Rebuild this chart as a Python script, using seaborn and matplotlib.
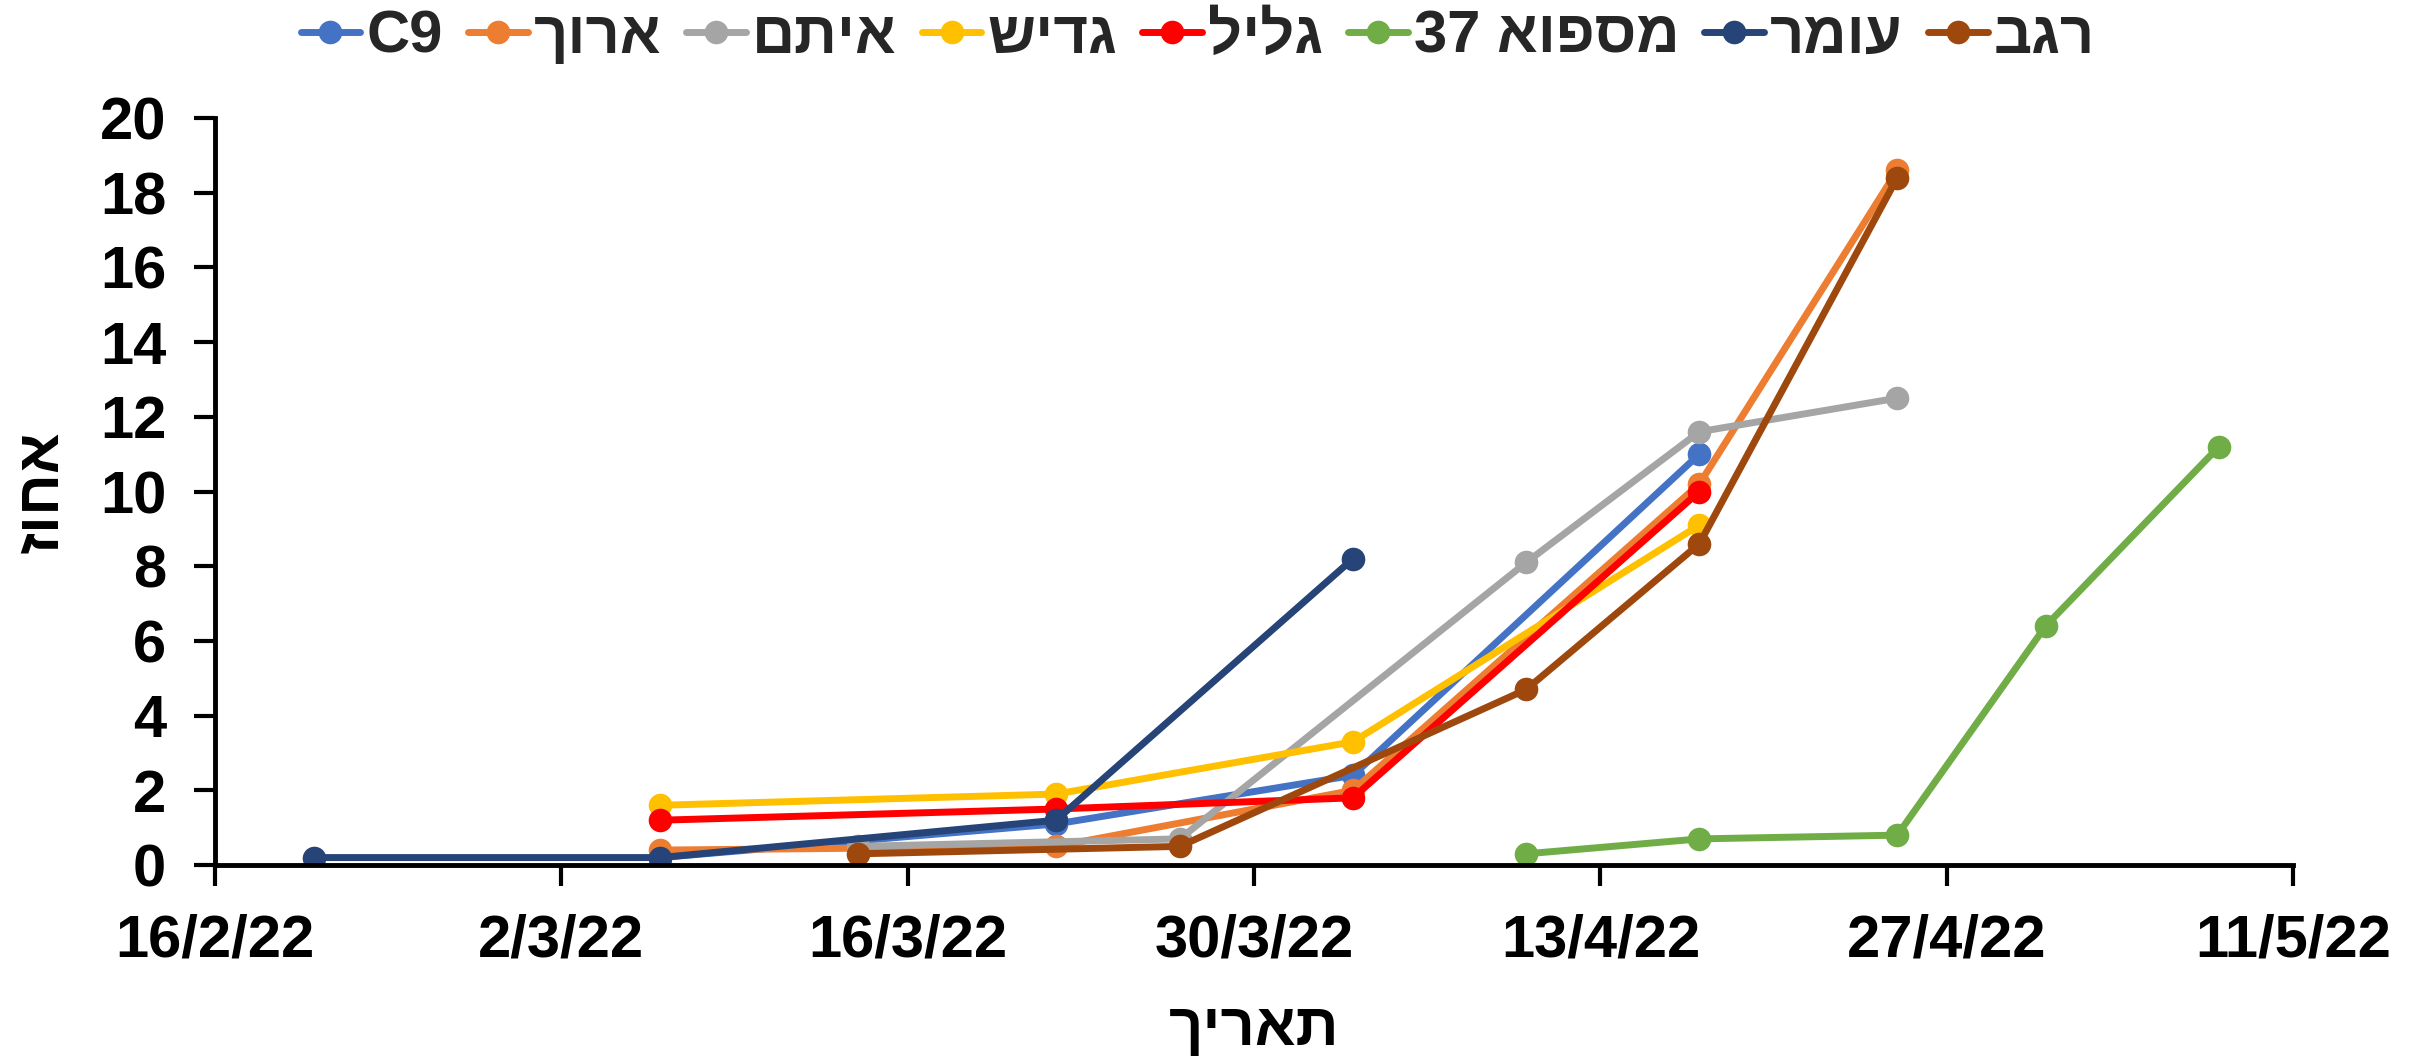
import matplotlib
matplotlib.use("Agg")
import matplotlib.pyplot as plt
import matplotlib.dates as mdates
from matplotlib.lines import Line2D
from matplotlib.ticker import FuncFormatter
import seaborn as sns
import pandas as pd

# data
series_names = ['C9', 'ארוך', 'איתם', 'גדיש', 'גליל', 'מספוא 37', 'עומר', 'רגב']
series_colors = ['#4472C4', '#ED7D31', '#A5A5A5', '#FFC000', '#FF0000', '#70AD47', '#264478', '#9E480E']

c9_dates = ['2022-03-06', '2022-03-22', '2022-04-03', '2022-04-17']
c9_values = [0.2, 1.1, 2.4, 11.0]
aroch_dates = ['2022-03-06', '2022-03-22', '2022-04-03', '2022-04-17', '2022-04-25']
aroch_values = [0.4, 0.5, 2.0, 10.2, 18.6]
eitam_dates = ['2022-03-14', '2022-03-27', '2022-04-10', '2022-04-17', '2022-04-25']
eitam_values = [0.5, 0.7, 8.1, 11.6, 12.5]
gadish_dates = ['2022-03-06', '2022-03-22', '2022-04-03', '2022-04-17']
gadish_values = [1.6, 1.9, 3.3, 9.1]
galil_dates = ['2022-03-06', '2022-03-22', '2022-04-03', '2022-04-17']
galil_values = [1.2, 1.5, 1.8, 10.0]
mispo_dates = ['2022-04-10', '2022-04-17', '2022-04-25', '2022-05-01', '2022-05-08']
mispo_values = [0.3, 0.7, 0.8, 6.4, 11.2]
omer_dates = ['2022-02-20', '2022-03-06', '2022-03-22', '2022-04-03']
omer_values = [0.2, 0.2, 1.2, 8.2]
regev_dates = ['2022-03-14', '2022-03-27', '2022-04-10', '2022-04-17', '2022-04-25']
regev_values = [0.3, 0.5, 4.7, 8.6, 18.4]

all_dates = [c9_dates, aroch_dates, eitam_dates, gadish_dates, galil_dates, mispo_dates, omer_dates, regev_dates]
all_values = [c9_values, aroch_values, eitam_values, gadish_values, galil_values, mispo_values, omer_values, regev_values]

x_ticks = ['2022-02-16', '2022-03-02', '2022-03-16', '2022-03-30', '2022-04-13', '2022-04-27', '2022-05-11']
y_ticks = list(range(0, 21, 2))


def heb(s):
    # matplotlib has no bidi support: put words in visual order
    words = s.split(' ')[::-1]
    out = []
    for w in words:
        if any('\u0590' <= ch <= '\u05FF' for ch in w):
            w = w[::-1]
        out.append(w)
    return ' '.join(out)


labels = [heb(n) for n in series_names]
rows = []
for lab, ds, vs in zip(labels, all_dates, all_values):
    for d, v in zip(ds, vs):
        rows.append({'date': pd.Timestamp(d), 'value': v, 'series': lab})
df = pd.DataFrame(rows)

sns.set_theme(style="white")
plt.rcParams['font.family'] = ['Liberation Sans', 'DejaVu Sans']
plt.rcParams['font.weight'] = 'bold'

FS = 43
LW = 5
MS = 17

fig = plt.figure(figsize=(24.1, 10.61), dpi=100)
ax = fig.add_axes([0.0892, 0.1847, 0.8623, 0.7041])

palette = dict(zip(labels, series_colors))
sns.lineplot(data=df, x='date', y='value', hue='series', hue_order=labels,
             palette=palette, marker='o', markersize=MS, markeredgewidth=0,
             linewidth=LW, legend=False, ax=ax, estimator=None, sort=False)

tick_nums = [mdates.date2num(pd.Timestamp(d)) for d in x_ticks]
ax.set_xlim(tick_nums[0], tick_nums[-1])
ax.set_xticks(tick_nums)
ax.xaxis.set_major_formatter(FuncFormatter(
    lambda x, pos: (lambda d: f"{d.day}/{d.month}/{d:%y}")(mdates.num2date(x))))
ax.set_ylim(0, 20)
ax.set_yticks(y_ticks)

for side in ['top', 'right']:
    ax.spines[side].set_visible(False)
for side in ['left', 'bottom']:
    ax.spines[side].set_color('black')
    ax.spines[side].set_linewidth(3.5)
ax.tick_params(axis='both', bottom=True, left=True, direction='out', length=15, width=3,
               color='black', labelsize=FS, pad=20, labelcolor='black')
for t in ax.get_xticklabels() + ax.get_yticklabels():
    t.set_fontweight('bold')

ax.set_xlabel(heb('תאריך'), fontsize=FS, fontweight='bold', labelpad=24, color='black')
ax.set_ylabel(heb('אחוז'), fontsize=FS, fontweight='bold', labelpad=22, color='black')

handles = [Line2D([], [], color=c, marker='o', markersize=MS, markeredgewidth=0, linewidth=LW)
           for c in series_colors]
fig.legend(handles, labels, loc='center', bbox_to_anchor=(0.497, 0.965), ncol=8,
           frameon=False, handlelength=1.0, handletextpad=0.1,
           columnspacing=0.42, prop={'weight': 'bold', 'size': FS})

fig.savefig('out.png', dpi=100)
